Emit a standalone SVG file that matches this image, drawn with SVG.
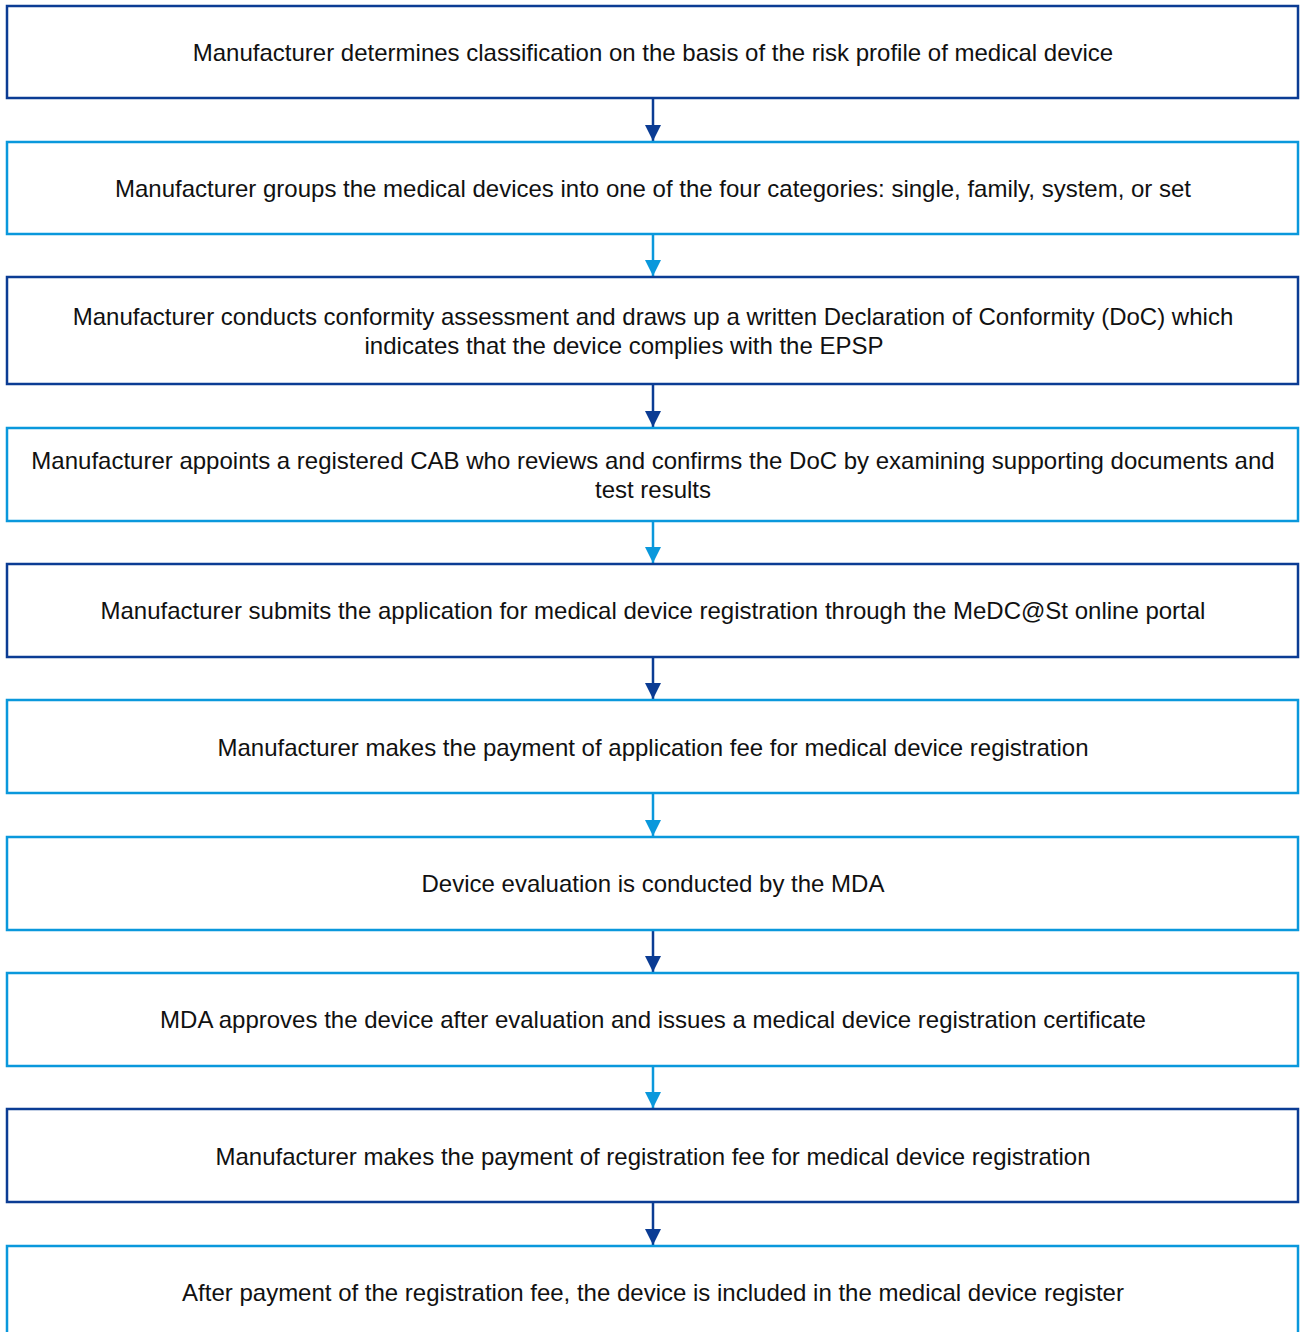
<svg xmlns="http://www.w3.org/2000/svg" width="1303" height="1332" viewBox="0 0 1303 1332">
<style>
.b{fill:#fff;stroke-width:2.5}
.d{stroke:#0b3c94}
.l{stroke:#0a98dc}
text{font-family:"Liberation Sans",Arial,sans-serif;font-size:24px;fill:#111;text-anchor:middle}
.c{stroke-width:2.5;fill:none}
</style>
<defs>
<marker id="ad" viewBox="0 0 16 16" refX="16" refY="8" markerWidth="16" markerHeight="16" markerUnits="userSpaceOnUse" orient="auto"><path d="M0,0 L16,8 L0,16 Z" fill="#0b3c94"/></marker>
<marker id="al" viewBox="0 0 16 16" refX="16" refY="8" markerWidth="16" markerHeight="16" markerUnits="userSpaceOnUse" orient="auto"><path d="M0,0 L16,8 L0,16 Z" fill="#0a98dc"/></marker>
</defs>
<g id="connectors">
<line class="c d" x1="653" y1="98" x2="653" y2="141" marker-end="url(#ad)"/>
<line class="c l" x1="653" y1="234" x2="653" y2="276" marker-end="url(#al)"/>
<line class="c d" x1="653" y1="384" x2="653" y2="427" marker-end="url(#ad)"/>
<line class="c l" x1="653" y1="521" x2="653" y2="563" marker-end="url(#al)"/>
<line class="c d" x1="653" y1="657" x2="653" y2="699" marker-end="url(#ad)"/>
<line class="c l" x1="653" y1="793" x2="653" y2="836" marker-end="url(#al)"/>
<line class="c d" x1="653" y1="930" x2="653" y2="972" marker-end="url(#ad)"/>
<line class="c l" x1="653" y1="1066" x2="653" y2="1108" marker-end="url(#al)"/>
<line class="c d" x1="653" y1="1202" x2="653" y2="1245" marker-end="url(#ad)"/>
</g>
<g id="n1"><rect class="b d" x="7" y="6" width="1291" height="92"/><text x="653" y="61">Manufacturer determines classification on the basis of the risk profile of medical device</text></g>
<g id="n2"><rect class="b l" x="7" y="142" width="1291" height="92"/><text x="653" y="197">Manufacturer groups the medical devices into one of the four categories: single, family, system, or set</text></g>
<g id="n3"><rect class="b d" x="7" y="277" width="1291" height="107"/><text x="653" y="325">Manufacturer conducts conformity assessment and draws up a written Declaration of Conformity (DoC) which</text><text x="624" y="354">indicates that the device complies with the EPSP</text></g>
<g id="n4"><rect class="b l" x="7" y="428" width="1291" height="93"/><text x="653" y="469">Manufacturer appoints a registered CAB who reviews and confirms the DoC by examining supporting documents and</text><text x="653" y="498">test results</text></g>
<g id="n5"><rect class="b d" x="7" y="564" width="1291" height="93"/><text x="653" y="619">Manufacturer submits the application for medical device registration through the MeDC@St online portal</text></g>
<g id="n6"><rect class="b l" x="7" y="700" width="1291" height="93"/><text x="653" y="756">Manufacturer makes the payment of application fee for medical device registration</text></g>
<g id="n7"><rect class="b l" x="7" y="837" width="1291" height="93"/><text x="653" y="892">Device evaluation is conducted by the MDA</text></g>
<g id="n8"><rect class="b l" x="7" y="973" width="1291" height="93"/><text x="653" y="1028">MDA approves the device after evaluation and issues a medical device registration certificate</text></g>
<g id="n9"><rect class="b d" x="7" y="1109" width="1291" height="93"/><text x="653" y="1165">Manufacturer makes the payment of registration fee for medical device registration</text></g>
<g id="n10"><rect class="b l" x="7" y="1246" width="1291" height="100"/><text x="653" y="1301">After payment of the registration fee, the device is included in the medical device register</text></g>
</svg>
